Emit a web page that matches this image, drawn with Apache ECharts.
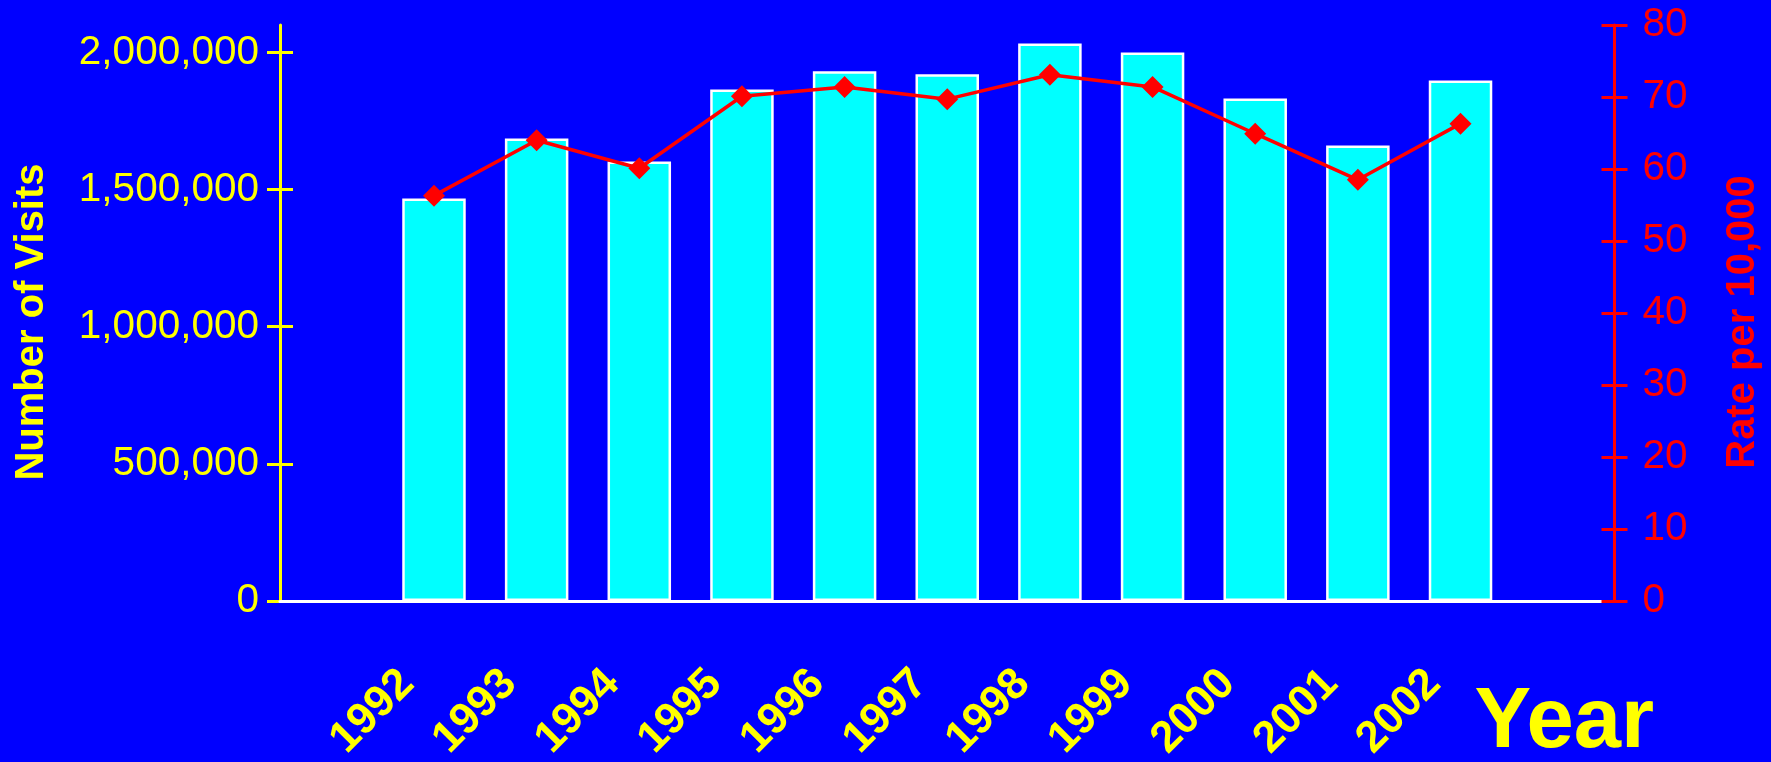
<!DOCTYPE html>
<html>
<head>
<meta charset="utf-8">
<script src="https://cdn.jsdelivr.net/npm/echarts@6/dist/echarts.min.js"></script>
<style>
html,body{margin:0;padding:0;background:#0000ff;}
#chart{width:1771px;height:762px;}
</style>
</head>
<body>
<div id="chart"></div>
<script>
const years = ['1992','1993','1994','1995','1996','1997','1998','1999','2000','2001','2002'];
const visits = [1467000, 1686000, 1602000, 1865000, 1931000, 1920000, 2033000, 2000000, 1832000, 1661000, 1898000];
const rates = [56.3, 64.0, 60.1, 70.1, 71.4, 69.7, 73.1, 71.4, 64.9, 58.5, 66.3];
const visitTicks = [0, 500000, 1000000, 1500000, 2000000];
const rateTicks = [0, 10, 20, 30, 40, 50, 60, 70, 80];

const FONT = "'Liberation Sans', Arial, sans-serif";
const YEL = '#ffff00', RED = '#ff0000', CYAN = '#00ffff', WHITE = '#ffffff';

const categories = [''].concat(years, ['']);
const barData = [null].concat(visits, [null]);
const lineData = [null].concat(rates, [null]);

const chart = echarts.init(document.getElementById('chart'), null, {renderer: 'canvas'});
chart.setOption({
  backgroundColor: '#0000ff',
  animation: false,
  grid: {left: 280, right: 156.5, top: 25, bottom: 161, outerBoundsMode: 'none', containLabel: false},
  xAxis: {
    type: 'category',
    data: categories,
    z: 1,
    axisLine: {show: true, lineStyle: {color: WHITE, width: 3}},
    axisTick: {show: false},
    splitLine: {show: false},
    axisLabel: {
      interval: 0, rotate: 45, color: YEL, fontSize: 44, fontWeight: 'bold', fontFamily: FONT,
      margin: 49, padding: [0, 38, 0, 0]
    },
    name: 'Year',
    nameLocation: 'end',
    nameGap: -140,
    nameMoveOverlap: false,
    nameTextStyle: {color: YEL, fontSize: 85, fontWeight: 'bold', fontFamily: FONT,
      align: 'left', verticalAlign: 'top', lineHeight: 85, padding: [80, 0, 0, 0]}
  },
  yAxis: [
    {
      type: 'value', position: 'left', min: 0, max: 2100000,
      axisLine: {show: true, lineStyle: {color: YEL, width: 3}},
      axisTick: {show: true, length: 13, customValues: visitTicks, lineStyle: {color: YEL, width: 3}},
      axisLabel: {customValues: visitTicks, color: YEL, fontSize: 40.5, fontFamily: FONT, margin: 21,
        formatter: v => Number(v).toLocaleString('en-US')},
      splitLine: {show: false},
      name: 'Number of Visits', nameLocation: 'middle', nameGap: 228, nameMoveOverlap: false,
      nameTextStyle: {color: YEL, fontSize: 40, fontWeight: 'bold', fontFamily: FONT, padding: [0, 18, 0, 0]}
    },
    {
      type: 'value', position: 'left', min: 0, max: 2100000,
      axisLine: {show: false},
      axisTick: {show: true, inside: true, length: 13, customValues: visitTicks, lineStyle: {color: YEL, width: 3}},
      axisLabel: {show: false},
      splitLine: {show: false}
    },
    {
      type: 'value', position: 'right', min: 0, max: 80, interval: 10, z: 2,
      axisLine: {show: true, lineStyle: {color: RED, width: 3}},
      axisTick: {show: true, length: 13, lineStyle: {color: RED, width: 3}},
      axisLabel: {customValues: rateTicks, color: RED, fontSize: 40.5, fontFamily: FONT, margin: 28},
      splitLine: {show: false},
      name: 'Rate per 10,000', nameLocation: 'middle', nameGap: 108, nameMoveOverlap: false,
      nameTextStyle: {color: RED, fontSize: 40, fontWeight: 'bold', fontFamily: FONT, padding: [0, 18, 0, 0]}
    },
    {
      type: 'value', position: 'right', min: 0, max: 80, interval: 10, z: 2,
      axisLine: {show: false},
      axisTick: {show: true, inside: true, length: 13, lineStyle: {color: RED, width: 3}},
      axisLabel: {show: false},
      splitLine: {show: false}
    }
  ],
  series: [
    {
      type: 'bar', yAxisIndex: 0, data: barData, barWidth: 63.5,
      itemStyle: {color: CYAN, borderColor: WHITE, borderWidth: 2.5}
    },
    {
      type: 'line', yAxisIndex: 2, data: lineData, z: 5,
      symbol: 'diamond', symbolSize: 22,
      lineStyle: {color: RED, width: 3.5},
      itemStyle: {color: RED}
    }
  ]
});
</script>
</body>
</html>
